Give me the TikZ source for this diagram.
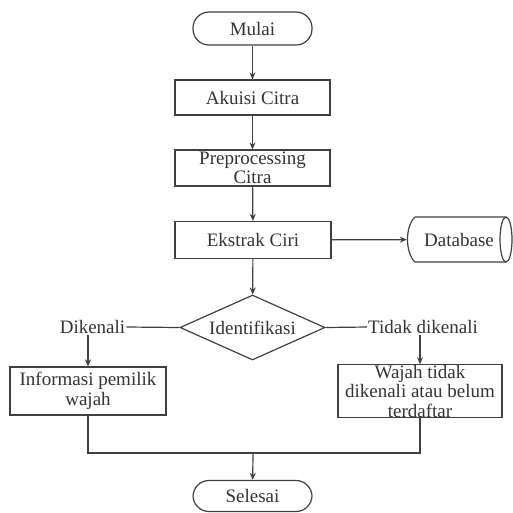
\documentclass[tikz,border=0pt]{standalone}
\usepackage{fontspec}
\setmainfont{Liberation Serif}
\usetikzlibrary{shapes.geometric,arrows.meta}
\begin{document}
\begin{tikzpicture}[x=1pt,y=-1pt,
  every node/.style={font=\fontsize{19}{19.5}\selectfont, text=black!80},
  box/.style={draw=black!75, line width=1.2pt, rectangle, inner sep=0pt, align=center},
  term/.style={draw=black!75, line width=1.2pt, rectangle, rounded corners=16pt, inner sep=0pt},
  lbl/.style={inner sep=1pt},
  conn/.style={draw=black!75, line width=1.2pt},
  arr/.style={conn, -{Stealth[length=7pt,width=6pt]}}]
\useasboundingbox (0,0) rectangle (513,512);
\node[term, minimum width=119pt, minimum height=33pt] (mulai) at (252.5,28.5) {Mulai};
\node[box, minimum width=155pt, minimum height=35pt] (akuisi) at (252.5,97.5) {Akuisi Citra};
\node[box, minimum width=155pt, minimum height=36pt] (prep) at (252.5,168) {Preprocessing\\Citra};
\node[box, minimum width=156pt, minimum height=37pt] (ekstrak) at (253,240) {Ekstrak Ciri};
\node[inner sep=0pt, minimum width=104pt, minimum height=45pt] (db) at (459,239.5) {Database};
\draw[conn] (415,217) -- (506,217) (415,262) -- (506,262)
  (415,217) .. controls (405,226) and (405,253) .. (415,262);
\draw[conn] (506,239.5) ellipse [x radius=6, y radius=22.5];
\node[draw=black!75, line width=1.2pt, diamond, aspect=2.23, inner sep=0pt, minimum width=145pt, minimum height=65pt] (ident) at (252.5,327.5) {Identifikasi};
\node[lbl] (dik) at (92.5,327) {Dikenali};
\node[lbl] (tdk) at (423,327) {Tidak dikenali};
\node[box, minimum width=156pt, minimum height=48pt] (info) at (88,391) {Informasi pemilik\\wajah};
\node[box, minimum width=164pt, minimum height=48pt] (wajah) at (420,391) {Wajah tidak\\dikenali atau belum\\terdaftar};
\node[term, minimum width=119pt, minimum height=31pt] (selesai) at (252.5,496) {Selesai};
\coordinate (merge) at (253,453);
\draw[arr] (mulai) -- (akuisi);
\draw[arr] (akuisi) -- (prep);
\draw[arr] (prep) -- (ekstrak);
\draw[arr] (ekstrak) -- (db);
\draw[arr] (ekstrak) -- (ident);
\draw[conn] (ident.west) -- (dik.east);
\draw[conn] (ident.east) -- (tdk.west);
\draw[arr] (dik.south -| info.north) -- (info.north);
\draw[arr] (tdk.south -| wajah.north) -- (wajah.north);
\draw[conn] (info.south) -- (info.south |- merge) -- (wajah.south |- merge) -- (wajah.south);
\draw[arr] (merge) -- (selesai);
\end{tikzpicture}
\end{document}
